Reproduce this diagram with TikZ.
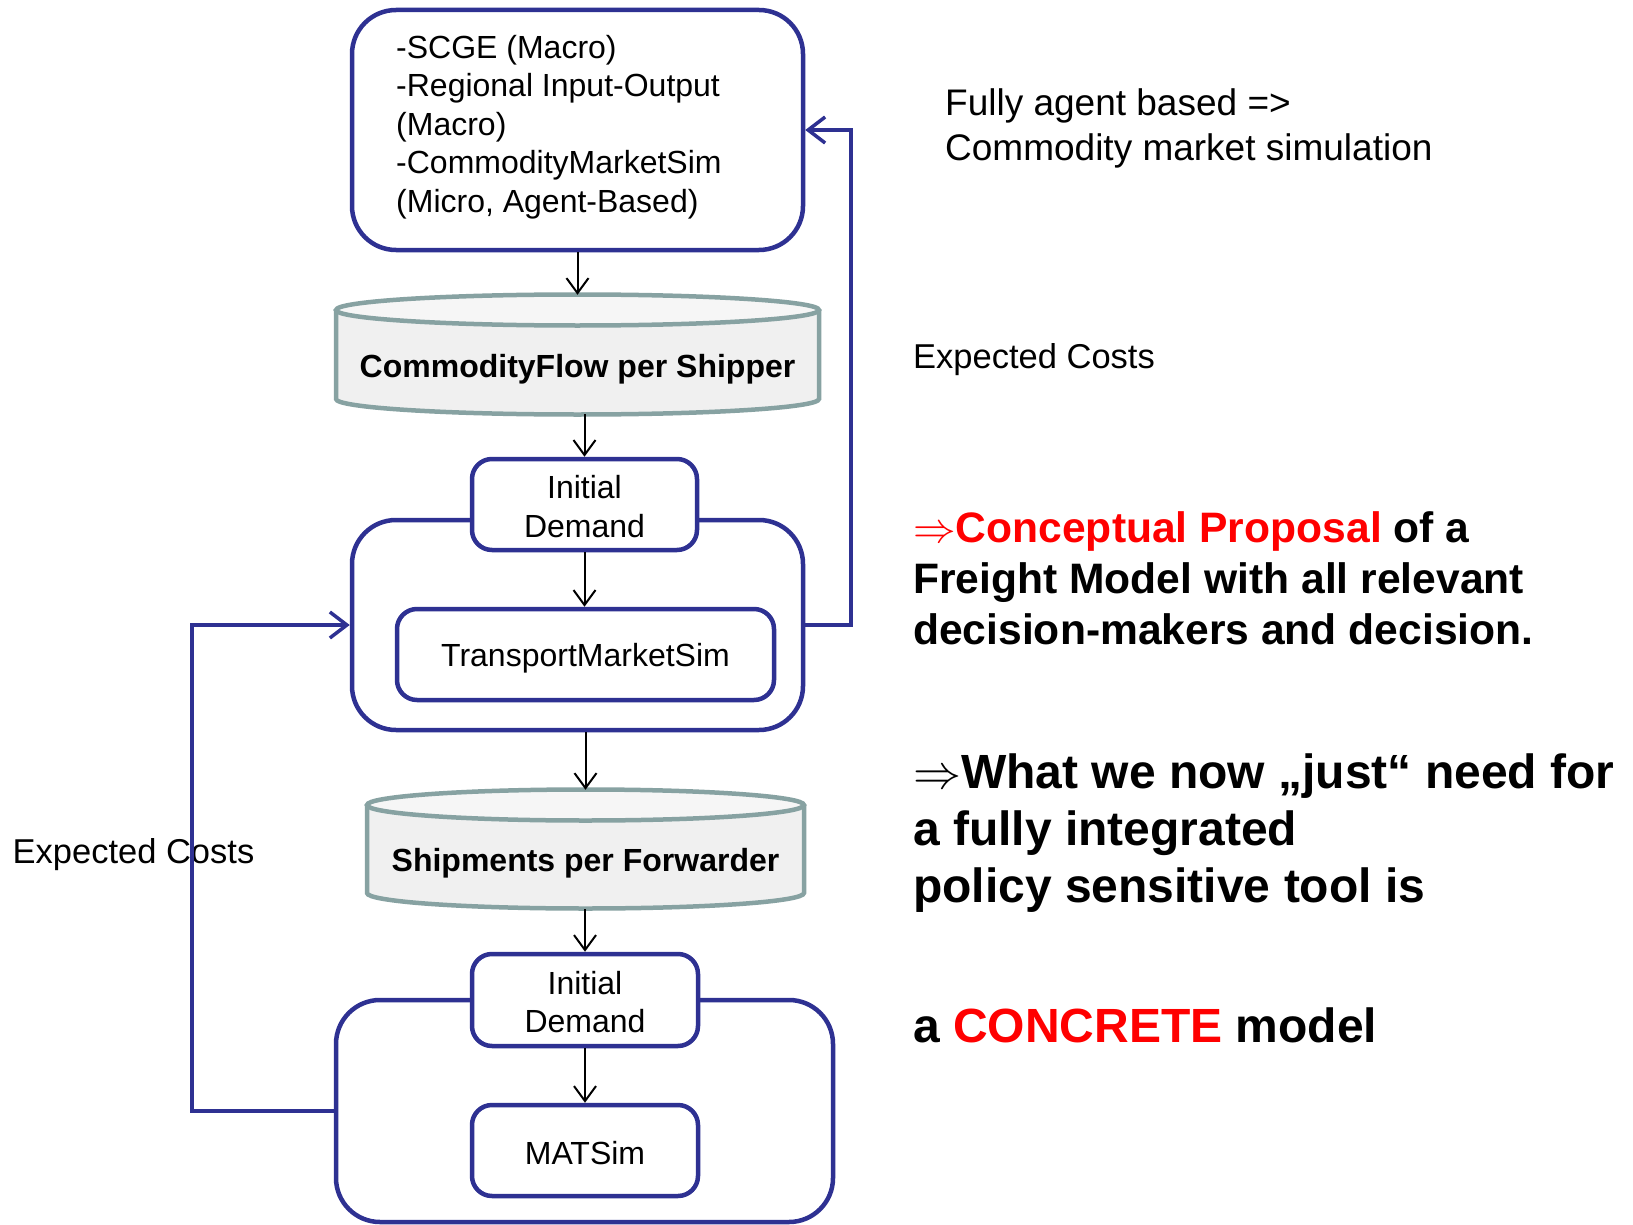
\RequirePackage{fix-cm}
\documentclass[tikz,border=0pt]{standalone}
\usepackage{fontspec}
\setmainfont{Liberation Sans}
\usetikzlibrary{arrows.meta}
\definecolor{boxblue}{HTML}{2E3192}
\definecolor{cylline}{HTML}{87A2A2}
\definecolor{cylbody}{HTML}{F0F0F0}
\definecolor{cyltop}{HTML}{F6F6F6}
\definecolor{hired}{HTML}{FF0000}
\begin{document}
\begin{tikzpicture}[x=1pt,y=-1pt,
  modbox/.style={draw=boxblue, line width=4.5pt, fill=white, inner sep=0pt},
  bigbox/.style={modbox, rounded corners=44pt},
  smallbox/.style={modbox, rounded corners=20pt},
  boxtext/.style={inner sep=0pt, align=center, font=\fontsize{32}{38.5}\selectfont},
  cylshape/.style={draw=cylline, line width=4.5pt},
  cyltext/.style={inner sep=0pt, font=\fontsize{32}{39}\selectfont\bfseries},
  hold/.style={inner sep=0pt, draw=none},
  flow/.style={draw=black, line width=2pt, -{Straight Barb[length=15pt,width=22pt]}},
  feed/.style={draw=boxblue, line width=3.5pt, line join=miter, -{Straight Barb[length=17pt,width=26pt]}},
  plain/.style={inner sep=0pt, anchor=base west},
  note/.style={plain, font=\fontsize{37}{45}\selectfont},
  cost/.style={plain, font=\fontsize{34.5}{41}\selectfont},
  claimA/.style={plain, font=\fontsize{42.6}{51}\selectfont\bfseries},
  claimB/.style={plain, font=\fontsize{48}{57}\selectfont\bfseries}]
\useasboundingbox (0,0) rectangle (1633,1225);

% --- top model box ---
\node[bigbox, minimum width=451pt, minimum height=240pt] (top) at (577.5,130) {};
\node[boxtext, anchor=west, align=left] (toptext) at (396,127)
  {-SCGE (Macro)\\-Regional Input-Output\\(Macro)\\-CommodityMarketSim\\(Micro, Agent-Based)};

% --- commodity flow store ---
\path[fill=cylbody] (336,310) -- (336,399) arc[start angle=180, end angle=0, x radius=241.5, y radius=15.5] -- (819,310) -- cycle;
\draw[cylshape] (336,310) -- (336,399) arc[start angle=180, end angle=0, x radius=241.5, y radius=15.5] -- (819,310);
\draw[cylshape, fill=cyltop] (577.5,310) ellipse[x radius=241.5, y radius=15.5];
\node[hold, minimum width=483pt, minimum height=119pt] (cyl1) at (577.5,354.5) {};
\node[cyltext] (cyl1text) at (577.5,369) {CommodityFlow per Shipper};

% --- transport market block ---
\node[bigbox, minimum width=451pt, minimum height=210pt] (outer2) at (577.5,625) {};
\node[smallbox, minimum width=225pt, minimum height=91pt] (id1) at (584.5,504.5) {};
\node[boxtext] (id1text) at (584.5,506.7) {Initial\\Demand};
\node[smallbox, minimum width=377pt, minimum height=91pt] (tms) at (585.5,654.5) {};
\node[boxtext, text depth=0pt] (tmstext) at (585.5,654.5) {TransportMarketSim};

% --- shipments store ---
\path[fill=cylbody] (367,805) -- (367,893) arc[start angle=180, end angle=0, x radius=218.5, y radius=15.5] -- (804,805) -- cycle;
\draw[cylshape] (367,805) -- (367,893) arc[start angle=180, end angle=0, x radius=218.5, y radius=15.5] -- (804,805);
\draw[cylshape, fill=cyltop] (585.5,805) ellipse[x radius=218.5, y radius=15.5];
\node[hold, minimum width=437pt, minimum height=119pt] (cyl2) at (585.5,849.5) {};
\node[cyltext] (cyl2text) at (585.5,863) {Shipments per Forwarder};

% --- traffic simulation block ---
\node[bigbox, minimum width=497pt, minimum height=222pt] (outer3) at (584.5,1111) {};
\node[smallbox, minimum width=226pt, minimum height=92pt] (id2) at (585,1000) {};
\node[boxtext] (id2text) at (585,1002.1) {Initial\\Demand};
\node[smallbox, minimum width=226pt, minimum height=91pt] (mat) at (585,1150.5) {};
\node[boxtext] (mattext) at (585,1152.6) {MATSim};

% --- labels ---
\node[note] (nt1) at (945,116) {Fully agent based =>};
\node[note] (nt2) at (945,161) {Commodity market simulation};
\node[cost] (costR) at (913,368) {Expected Costs};
\node[cost] (costL) at (12.5,863) {Expected Costs};

\node[claimA] (ca1) at (913,542) {\textcolor{hired}{$\Rightarrow$Conceptual Proposal} of a};
\node[claimA] (ca2) at (913,593) {Freight Model with all relevant};
\node[claimA] (ca3) at (913,644) {decision-makers and decision.};

\node[claimB] (cb1) at (913,788) {$\Rightarrow$What we now „just“ need for};
\node[claimB] (cb2) at (913,845) {a fully integrated};
\node[claimB] (cb3) at (913,902) {policy sensitive tool is};

\node[claimB] (cc1) at (913,1042) {a \textcolor{hired}{CONCRETE} model};

% --- flow arrows ---
\draw[flow] (top.south) -- (cyl1.north);
\draw[flow] (id1.north |- cyl1.south) -- (id1.north);
\draw[flow] (id1.south) -- (id1.south |- tms.north);
\draw[flow] (cyl2.north |- outer2.south) -- (cyl2.north);
\draw[flow] (id2.north |- cyl2.south) -- (id2.north);
\draw[flow] (id2.south) -- (mat.north);

% --- cost feedback loops ---
\coordinate (rbend) at (851,130);
\coordinate (lbend) at (192,625);
\draw[feed] (outer2.east) -| (rbend) -- (top.east);
\draw[feed] (outer3.west) -| (lbend) -- (outer2.west);
\end{tikzpicture}
\end{document}
